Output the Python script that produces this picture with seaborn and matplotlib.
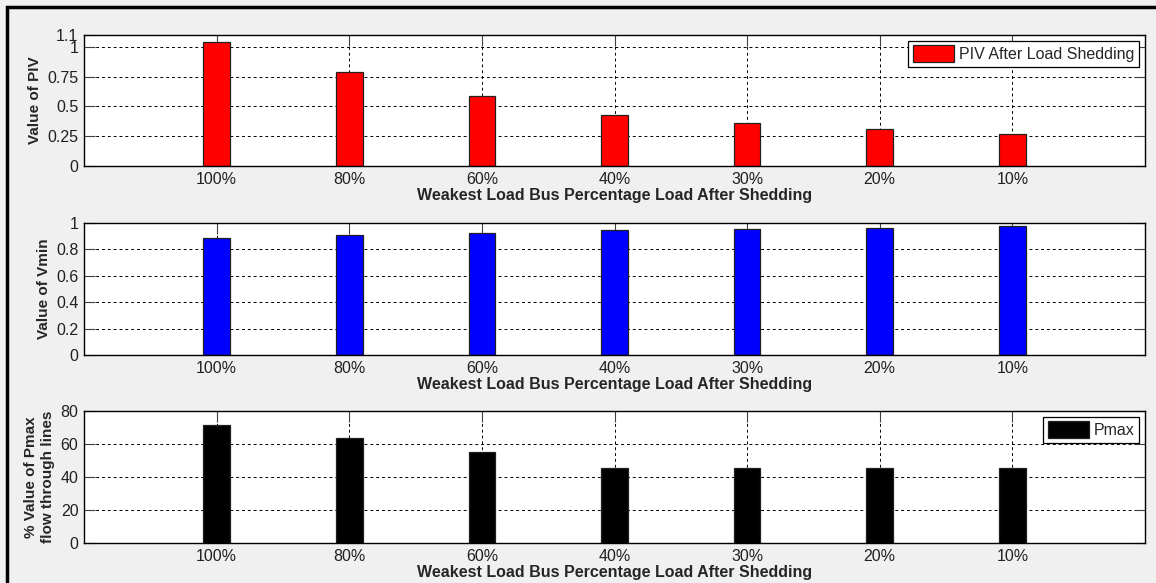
import numpy as np
import pandas as pd
import matplotlib
matplotlib.use("Agg")
import matplotlib.pyplot as plt
from matplotlib.patches import Rectangle
import seaborn as sns

# data
load_levels = ["100%", "80%", "60%", "40%", "30%", "20%", "10%"]
piv_values = [1.04, 0.79, 0.585, 0.425, 0.36, 0.31, 0.265]
vmin_values = [0.884, 0.909, 0.922, 0.945, 0.952, 0.96, 0.977]
pmax_values = [71.5, 63.6, 55.2, 45.5, 45.5, 45.5, 45.5]

sns.set_style("white")
plt.rcParams["font.family"] = ["Liberation Sans", "DejaVu Sans"]

fig = plt.figure(figsize=(11.56, 5.83), dpi=100)
fig.patch.set_facecolor("#f0f0f0")

W, H = 1156, 583
def box(top, bottom, left=84, right=1145):
    return [left / W, 1 - bottom / H, (right - left) / W, (bottom - top) / H]

panels = [
    dict(top=35, bottom=166, vals=piv_values, color="#ff0000", ylabel="Value of PIV",
         ylim=(0, 1.1), yticks=[0, 0.25, 0.5, 0.75, 1, 1.1],
         yticklabels=["0", "0.25", "0.5", "0.75", "1", "1.1"], legend="PIV After Load Shedding"),
    dict(top=223, bottom=355, vals=vmin_values, color="#0000ff", ylabel="Value of Vmin",
         ylim=(0, 1), yticks=[0, 0.2, 0.4, 0.6, 0.8, 1],
         yticklabels=["0", "0.2", "0.4", "0.6", "0.8", "1"], legend=None),
    dict(top=411, bottom=543, vals=pmax_values, color="#000000",
         ylabel="% Value of Pmax\nflow through lines",
         ylim=(0, 80), yticks=[0, 20, 40, 60, 80],
         yticklabels=["0", "20", "40", "60", "80"], legend="Pmax"),
]

for p in panels:
    ax = fig.add_axes(box(p["top"], p["bottom"]))
    df = pd.DataFrame({"load": load_levels, "value": p["vals"]})
    sns.barplot(data=df, x="load", y="value", color=p["color"], width=0.2,
                saturation=1, edgecolor="#202020", linewidth=0.9, ax=ax,
                label=p["legend"] if p["legend"] else None)
    ax.set_facecolor("white")
    ax.set_xlim(-1, 7)
    ax.set_ylim(*p["ylim"])
    ax.set_yticks(p["yticks"])
    ax.set_yticklabels(p["yticklabels"])
    ax.set_axisbelow(True)
    ax.grid(True, linestyle=(0, (3, 3)), color="black", linewidth=0.7)
    ax.tick_params(direction="in", length=8, width=0.8, color="#404040",
                   labelsize=11.5, labelcolor="#202020", top=True, right=True,
                   left=True, bottom=True, pad=4)
    for s in ax.spines.values():
        s.set_visible(True)
        s.set_color("black")
        s.set_linewidth(1.0)
    ax.set_xlabel("Weakest Load Bus Percentage Load After Shedding",
                  fontsize=11.5, fontweight="bold", labelpad=1)
    ax.set_ylabel(p["ylabel"], fontsize=11, fontweight="bold", labelpad=4,
                  linespacing=1.25)
    if p["legend"]:
        leg = ax.legend(loc="upper right", fontsize=11.5, frameon=True, fancybox=False,
                        borderaxespad=0.35, handlelength=2.6, handleheight=1.2,
                        borderpad=0.3, handletextpad=0.3)
        leg.get_frame().set_edgecolor("black")
        leg.get_frame().set_linewidth(0.9)
        leg.get_frame().set_alpha(1)
    elif ax.get_legend():
        ax.get_legend().remove()

# outer window frame
fig.patches.append(Rectangle((7 / W, -0.05), 1.2, 1 - 7 / H + 0.05,
                             transform=fig.transFigure, fill=False,
                             edgecolor="black", linewidth=2.5))

fig.savefig("out.png", dpi=100, facecolor=fig.get_facecolor())
